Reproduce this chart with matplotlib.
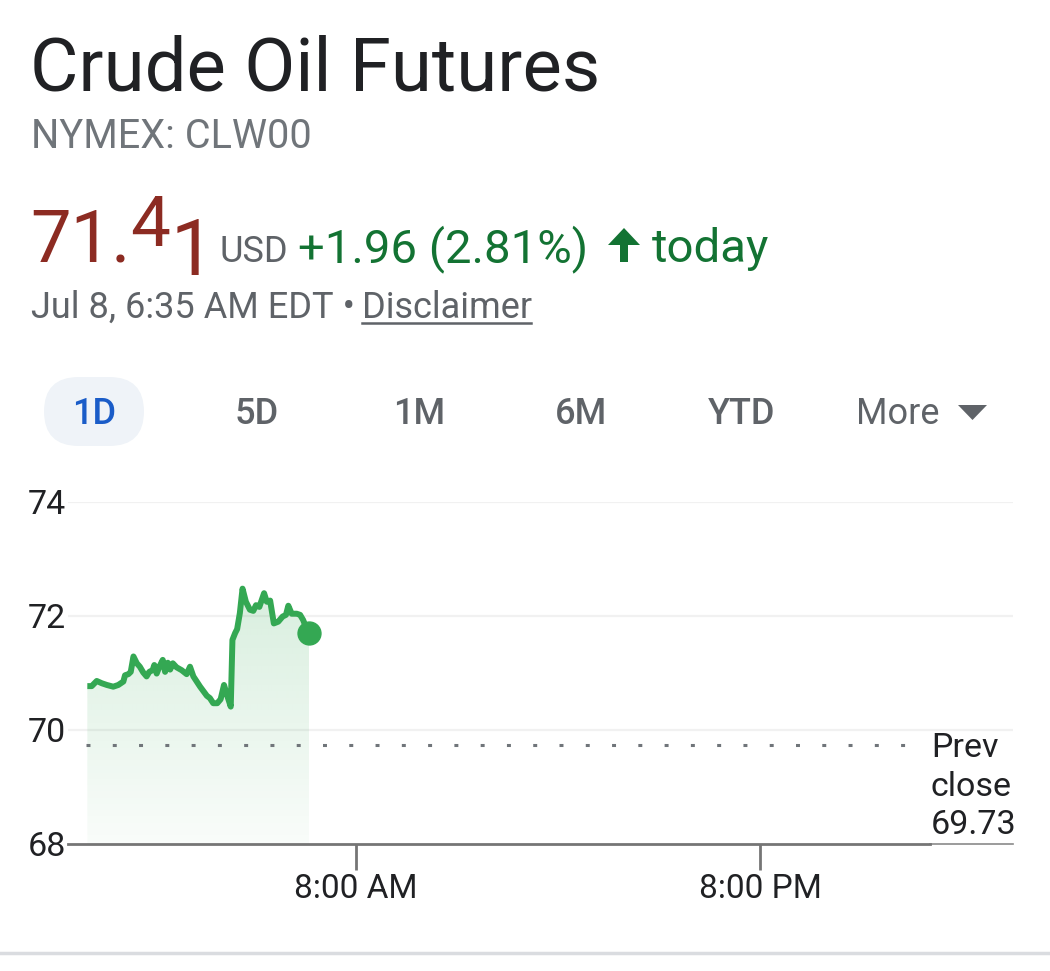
import numpy as np
import matplotlib
matplotlib.use("Agg")
import matplotlib.pyplot as plt
from matplotlib.path import Path
from matplotlib.patches import PathPatch, FancyBboxPatch, Polygon
from matplotlib.colors import to_rgb

plt.rcParams['font.family'] = ['Roboto', 'DejaVu Sans']

# ---------------- data ----------------
hours = [0.02, 0.15, 0.30, 0.45, 0.60, 0.79, 0.94, 1.09, 1.14, 1.24, 1.31, 1.39,
         1.49, 1.58, 1.68, 1.78, 1.86, 1.96, 2.01, 2.08, 2.16, 2.26, 2.33, 2.41,
         2.48, 2.56, 2.67, 2.82, 2.97, 3.07, 3.17, 3.37, 3.57, 3.66, 3.76, 3.88,
         3.98, 4.08, 4.16, 4.28, 4.33, 4.41, 4.47, 4.55, 4.63, 4.73, 4.85, 4.95,
         5.03, 5.13, 5.27, 5.35, 5.45, 5.56, 5.69, 5.82, 5.92, 5.99, 6.09, 6.24,
         6.34, 6.43, 6.51, 6.61]
prices = [70.77, 70.77, 70.86, 70.82, 70.79, 70.76, 70.79, 70.85, 70.96, 70.98,
          71.02, 71.29, 71.17, 71.11, 71.01, 70.94, 71.02, 71.05, 71.14, 70.99,
          71.11, 71.23, 71.02, 71.18, 71.06, 71.17, 71.10, 71.05, 70.98, 71.11,
          70.94, 70.76, 70.60, 70.56, 70.47, 70.47, 70.54, 70.79, 70.63, 70.41,
          71.58, 71.70, 71.77, 72.05, 72.48, 72.25, 72.11, 72.09, 72.19, 72.16,
          72.40, 72.25, 72.27, 71.87, 71.90, 71.99, 72.02, 72.18, 72.04, 72.04,
          72.02, 71.93, 71.81, 71.70]
prev_close = 69.73
y_ticks = [68, 70, 72, 74]
x_ticks = [8, 20]
x_tick_labels = ["8:00 AM", "8:00 PM"]
x_range = [-0.554, 27.515]
tabs = ["1D", "5D", "1M", "6M", "YTD"]

W, H = 1050, 971
fig = plt.figure(figsize=(W / 100, H / 100), dpi=100)
fig.patch.set_facecolor('white')

def P(x, y):
    return (x / W, 1 - y / H)

# ---------------- header texts ----------------
fig.text(*P(30, 90), "Crude Oil Futures", fontsize=53.5, color='#202124', va='baseline', ha='left')
fig.text(*P(31, 148), "NYMEX: CLW00", fontsize=28.5, color='#70757a', va='baseline', ha='left')

red = '#8c2b22'
fig.text(*P(30, 261), "71.", fontsize=52, color=red, va='baseline', ha='left')
fig.text(*P(130, 246), "4", fontsize=51, color=red, va='baseline', ha='left')
fig.text(*P(171, 275), "1", fontsize=56, color=red, va='baseline', ha='left')
fig.text(*P(220, 262), "USD", fontsize=26, color='#5f6368', va='baseline', ha='left')
green_t = '#137333'
fig.text(*P(298, 262), "+1.96 (2.81%)", fontsize=34, color=green_t, va='baseline', ha='left')
fig.text(*P(652, 262), "today", fontsize=34, color=green_t, va='baseline', ha='left')
# up arrow glyph
arrow = Polygon([P(608, 245), P(624, 228), P(640, 245), P(628, 245), P(628, 262),
                 P(620, 262), P(620, 245)], closed=True, transform=fig.transFigure,
                facecolor=green_t, edgecolor='none')
fig.patches.append(arrow)

fig.text(*P(31, 318), "Jul 8, 6:35 AM EDT \u2022 ", fontsize=26, color='#5f6368', va='baseline', ha='left')
fig.text(*P(362, 318), "Disclaimer", fontsize=26, color='#5f6368', va='baseline', ha='left')
fig.add_artist(plt.Line2D([362 / W, 531 / W], [1 - 323 / H, 1 - 323 / H], color='#5f6368', lw=1.8))

# tabs
pill = FancyBboxPatch(P(44, 446), 100 / W, 69 / H, boxstyle="round,pad=0,rounding_size=0.033",
                      transform=fig.transFigure, facecolor='#eff3f8', edgecolor='none',
                      mutation_aspect=W / H)
fig.patches.append(pill)
tab_x = [94, 257, 419, 581, 742]
for t, tx in zip(tabs, tab_x):
    fig.text(*P(tx, 424), t, fontsize=26, fontweight='medium',
             color='#1a5cc8' if t == "1D" else '#5f6368', va='baseline', ha='center')
fig.text(*P(856, 424), "More", fontsize=26, color='#5f6368', va='baseline', ha='left')
tri = Polygon([P(958, 405), P(987, 405), P(972.5, 420)], closed=True, transform=fig.transFigure,
              facecolor='#5f6368', edgecolor='none')
fig.patches.append(tri)

# bottom divider
fig.add_artist(plt.Line2D([0, 1], [1 - 953 / H, 1 - 953 / H], color='#dadce0', lw=2.5))

# ---------------- chart ----------------
ax = fig.add_axes([68 / W, (H - 844) / H, 945 / W, 342 / H])
ax.set_facecolor('none')

line_green = '#34a853'
verts = np.vstack([np.column_stack([hours, prices]),
                   [[hours[-1], y_ticks[0]], [hours[0], y_ticks[0]]]])
patch = PathPatch(Path(verts), facecolor='none', edgecolor='none')
ax.add_patch(patch)
grad = np.linspace(1, 0, 256).reshape(-1, 1)
rgba = np.zeros((256, 1, 4))
rgba[..., :3] = to_rgb(line_green)
rgba[..., 3] = 0.03 + 0.16 * grad[..., 0:1]
im = ax.imshow(rgba, extent=[hours[0], hours[-1], y_ticks[0], max(prices)],
               aspect='auto', origin='upper', zorder=1, interpolation='bilinear')
im.set_clip_path(patch)

for yv in y_ticks[1:]:
    ax.axhline(yv, color='#f1f1f1', lw=1.6, zorder=0)

ax.plot(hours, prices, color=line_green, lw=4.3, zorder=3, solid_joinstyle='round',
        solid_capstyle='butt', clip_on=False)
ax.plot([hours[-1]], [prices[-1]], 'o', color=line_green, markersize=16.5, zorder=4, clip_on=False)

ax.hlines(prev_close, hours[0] - 0.03, 24.9, colors='#70757a', lw=2.2,
          linestyles=(0, (1.3, 7.3)), zorder=2)

ax.set_xlim(*x_range)
ax.set_ylim(y_ticks[0], y_ticks[-1])

for s in ['top', 'right', 'left']:
    ax.spines[s].set_visible(False)
ax.spines['bottom'].set_color('#757575')
ax.spines['bottom'].set_linewidth(2.0)
ax.spines['bottom'].set_bounds(x_range[0], 25.05)
ax.plot([25.05, x_range[1]], [y_ticks[0], y_ticks[0]], color='#8a8a8a', lw=1.2, clip_on=False, zorder=2)

ax.set_yticks(y_ticks)
ax.set_yticklabels([str(v) for v in y_ticks])
ax.tick_params(axis='y', length=0, pad=1.5, labelsize=24.5, labelcolor='#202124')
ax.set_xticks(x_ticks)
ax.set_xticklabels(x_tick_labels)
ax.tick_params(axis='x', length=18.5, width=2.0, color='#757575', pad=2.5,
               labelsize=24, labelcolor='#202124')

for txt, by in zip(["Prev", "close", "%.2f" % prev_close], [757, 796, 834]):
    fig.text(*P(931, by), txt, fontsize=24.5, color='#202124', va='baseline', ha='left')

fig.savefig("out.png", dpi=100, facecolor='white')
